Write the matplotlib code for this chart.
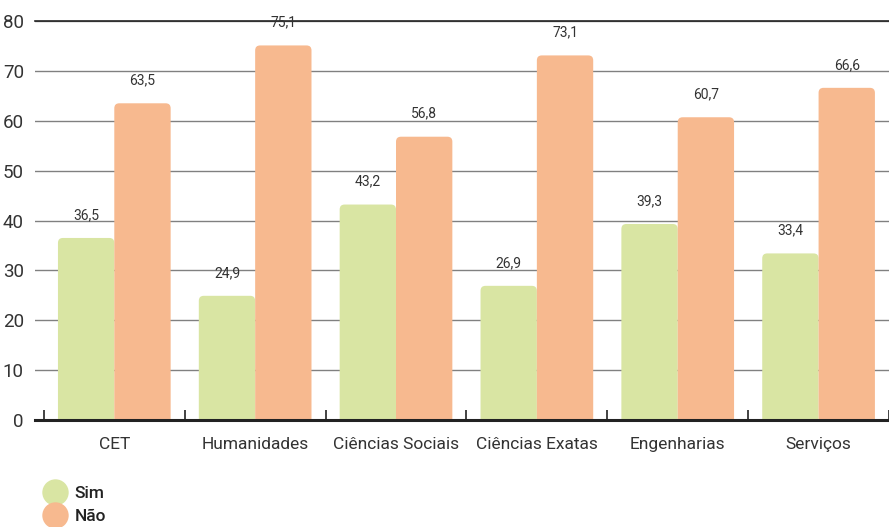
import numpy as np
import matplotlib
matplotlib.use("Agg")
import matplotlib.pyplot as plt
from matplotlib.patches import FancyBboxPatch
from matplotlib.lines import Line2D

categories = ["CET", "Humanidades", "Ciências Sociais", "Ciências Exatas", "Engenharias", "Serviços"]
sim = [36.5, 24.9, 43.2, 26.9, 39.3, 33.4]
nao = [63.5, 75.1, 56.8, 73.1, 60.7, 66.6]
series_labels = ["Sim", "Não"]

GREEN = "#d9e5a3"
ORANGE = "#f7b98f"
TEXT = "#333333"

plt.rcParams["font.family"] = ["Roboto", "DejaVu Sans"]

fig = plt.figure(figsize=(8.89, 5.27), dpi=100)
ax = fig.add_axes([35 / 889, 1 - 420 / 527, 1 - 35 / 889, 399 / 527])

x = np.arange(len(categories))
w = 0.40
ax.set_xlim(-0.563, 5.45)
ax.set_ylim(0, 80)

# keep the corner rounding circular in pixel space
px_x = 142.0
px_y = 399.0 / 80
aspect = px_x / px_y

def rounded_bar(xc, h, color):
    p = FancyBboxPatch((xc - w / 2, -2), w, h + 2,
                       boxstyle="round,pad=0,rounding_size=0.035",
                       mutation_aspect=aspect,
                       facecolor=color, edgecolor="none", zorder=3)
    ax.add_patch(p)

for i in range(len(categories)):
    rounded_bar(x[i] - w / 2, sim[i], GREEN)
    rounded_bar(x[i] + w / 2, nao[i], ORANGE)
    ax.text(x[i] - w / 2, sim[i] + 3.2, f"{sim[i]:.1f}".replace(".", ","),
            ha="center", va="bottom", fontsize=10, color=TEXT)
    ax.text(x[i] + w / 2, nao[i] + 3.2, f"{nao[i]:.1f}".replace(".", ","),
            ha="center", va="bottom", fontsize=10, color=TEXT)

# grid
ax.set_yticks(np.arange(0, 81, 10))
ax.yaxis.grid(True, color="#808080", linewidth=1.0, zorder=0)
ax.set_axisbelow(True)
ax.tick_params(axis="y", length=0, labelsize=13.5, labelcolor=TEXT, pad=8)

# x ticks at group boundaries, labels at centers
ax.set_xticks(np.arange(-0.5, len(categories), 1.0))
ax.set_xticklabels([])
ax.set_xticks(x, minor=True)
ax.set_xticklabels(categories, minor=True, fontsize=12.5, color=TEXT)
ax.tick_params(axis="x", which="major", direction="in", length=7, width=1.2, color="#222222")
ax.tick_params(axis="x", which="minor", length=0, pad=12)

for s in ["left", "right"]:
    ax.spines[s].set_visible(False)
ax.spines["top"].set_color("#222222")
ax.spines["top"].set_linewidth(1.2)
ax.spines["bottom"].set_color("#222222")
ax.spines["bottom"].set_linewidth(2.2)
ax.spines["bottom"].set_zorder(5)

handles = [Line2D([], [], marker="o", linestyle="none", markersize=19,
                  markerfacecolor=c, markeredgecolor="none") for c in (GREEN, ORANGE)]
leg = fig.legend(handles, series_labels, loc="upper left", bbox_to_anchor=(33 / 889, 1 - 477 / 527),
                 frameon=False, fontsize=12.5, labelspacing=0.45, handletextpad=0.4,
                 handlelength=1.5, borderpad=0)
for t in leg.get_texts():
    t.set_color("#222222")
    t.set_fontweight("medium")

fig.savefig("out.png", dpi=100)
